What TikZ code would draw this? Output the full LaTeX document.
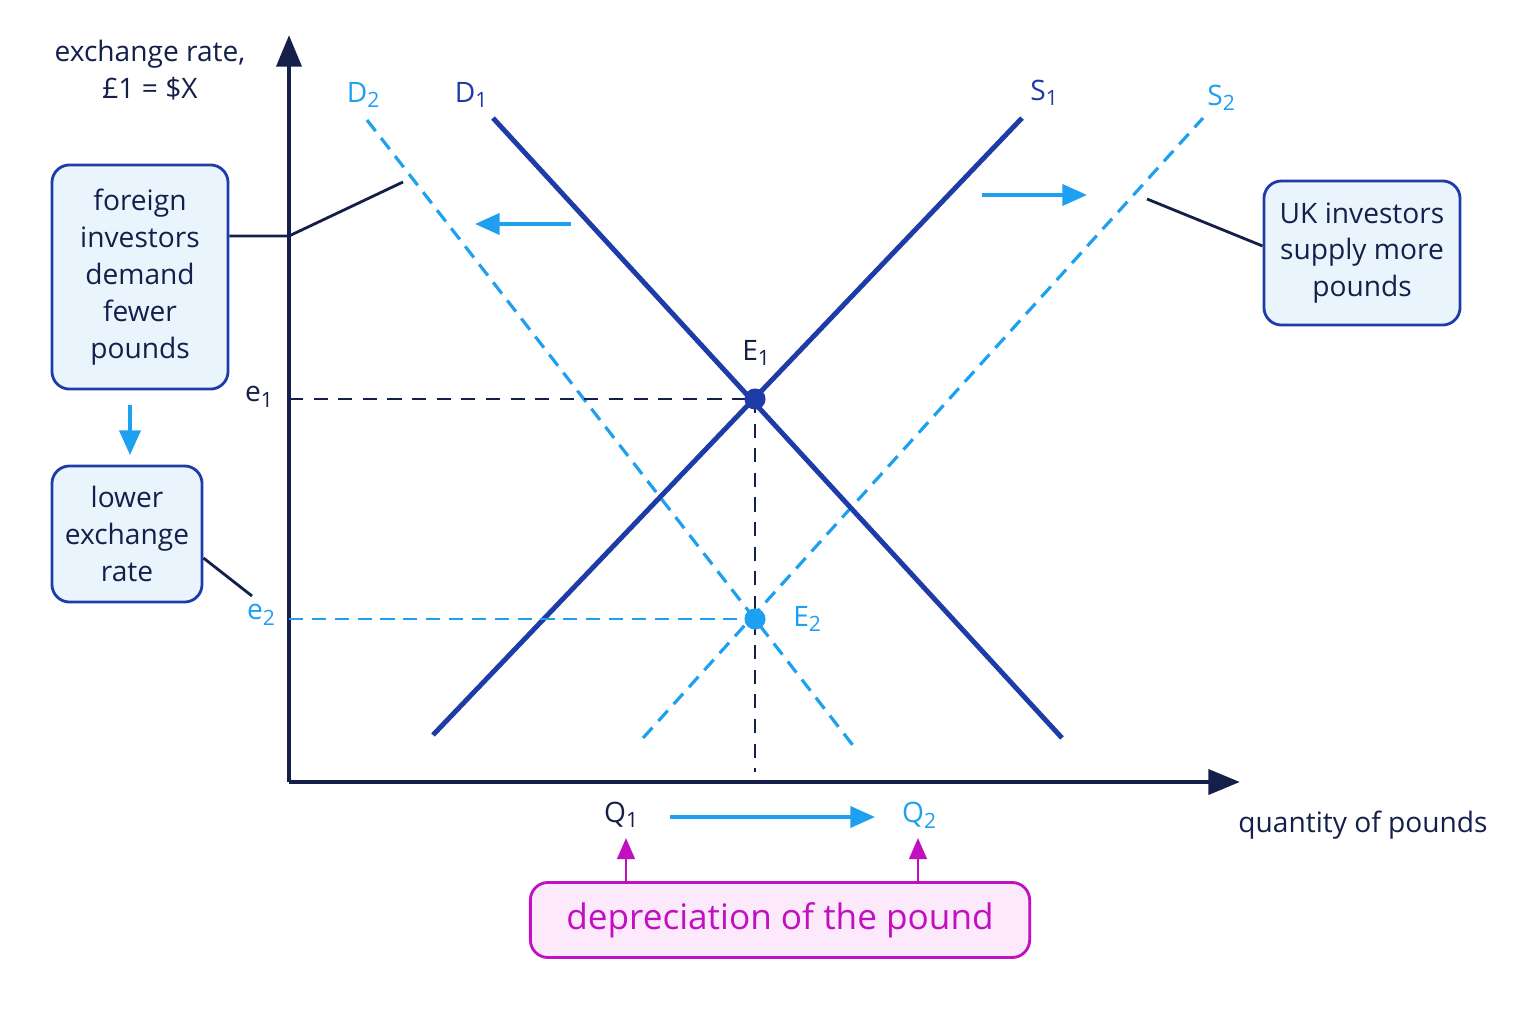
\documentclass[tikz,border=0pt]{standalone}
\usepackage{fontspec}
\setmainfont{Open Sans}
\usetikzlibrary{arrows.meta,positioning}
\definecolor{navy}{HTML}{14204A}
\definecolor{dblue}{HTML}{1E3CA8}
\definecolor{lblue}{HTML}{1EA0F0}
\definecolor{magen}{HTML}{C010C0}
\definecolor{boxfill}{HTML}{EAF4FD}
\definecolor{magfill}{HTML}{FCEAFC}
\newcommand{\sub}[1]{\textsubscript{#1}}
\begin{document}
\begin{tikzpicture}[x=0.01cm,y=-0.01cm,
  txt/.style={font=\fontsize{8}{10.5}\selectfont,text=navy},
  note/.style={draw=dblue,fill=boxfill,rounded corners=5pt,line width=0.8pt,align=center,txt},
  curve/.style={draw=dblue,line width=1.4pt},
  newcurve/.style={draw=lblue,line width=0.9pt,dash pattern=on 4pt off 2.5pt},
  guide/.style={draw=navy,line width=0.8pt,dash pattern=on 4pt off 3pt},
  move/.style={draw=lblue,line width=1pt,-{Triangle[length=7pt,width=6pt]}}]
  \useasboundingbox[fill=white] (0,0) rectangle (1536,1024);
  % axes
  \coordinate (O) at (289,782);
  \coordinate (ytop) at (289,35);
  \coordinate (xend) at (1240,782);
  \draw[navy,line width=1.4pt,-{Triangle[length=9pt,width=7pt]}] (O) -- (ytop);
  \draw[navy,line width=1.4pt,-{Triangle[length=9pt,width=7pt]}] (O) -- (xend);
  \node[txt,align=center] (ylab) at (150,70) {exchange rate,\\£1 = \$X};
  \node[txt] (xlab) at (1363,825) {quantity of pounds};
  % curves
  \coordinate (d1a) at (493,118); \coordinate (d1b) at (1062,738);
  \coordinate (s1a) at (433,735); \coordinate (s1b) at (1022,118);
  \coordinate (d2a) at (367,120); \coordinate (d2b) at (855,748);
  \coordinate (s2a) at (643,738); \coordinate (s2b) at (1203,118);
  \draw[newcurve] (d2a) -- (d2b);
  \draw[newcurve] (s2a) -- (s2b);
  \draw[curve] (d1a) -- (d1b);
  \draw[curve] (s1a) -- (s1b);
  \node[txt,text=lblue] (D2) at (364,95) {D\sub{2}};
  \node[txt,text=dblue] (D1) at (472,95) {D\sub{1}};
  \node[txt,text=dblue] (S1) at (1045,93) {S\sub{1}};
  \node[txt,text=lblue] (S2) at (1222,98) {S\sub{2}};
  % equilibria
  \coordinate (e1y) at (289,399); \coordinate (e2y) at (289,619);
  \coordinate (qbot) at (755,772);
  \draw[guide] (e1y) -- (755,399);
  \draw[newcurve,line width=0.8pt] (e2y) -- (755,619);
  \draw[guide] (755,399) -- (qbot);
  \node[circle,fill=dblue,inner sep=0pt,minimum size=6pt] (E1) at (755,399) {};
  \node[circle,fill=lblue,inner sep=0pt,minimum size=6pt] (E2) at (755,619) {};
  \node[txt] (E1l) at (757,353) {E\sub{1}};
  \node[txt,text=lblue] (E2l) at (808,619) {E\sub{2}};
  \node[txt] (e1) at (260,397) {e\sub{1}};
  \node[txt,text=lblue] (e2) at (262,615) {e\sub{2}};
  % shifts
  \draw[move] (571,224) -- (475,224);
  \draw[move] (982,195) -- (1087,195);
  % notes
  \node[note,minimum width=1.76cm,minimum height=2.24cm] (fi) at (140,277) {foreign\\investors\\demand\\fewer\\pounds};
  \node[note,minimum width=1.5cm,minimum height=1.36cm] (lr) at (127,534) {lower\\exchange\\rate};
  \node[note,minimum width=1.96cm,minimum height=1.44cm] (uk) at (1362,253) {UK investors\\supply more\\pounds};
  \draw[navy,line width=0.8pt] (fi.east |- 0,236) -- (289,236) -- (403,182);
  \draw[navy,line width=0.8pt] (lr.east |- 0,558) -- (252,596);
  \draw[navy,line width=0.8pt] (uk.west |- 0,246) -- (1147,199);
  \draw[move] (130,405) -- (130,455);
  % quantities
  \node[txt] (Q1) at (622,815) {Q\sub{1}};
  \node[txt,text=lblue] (Q2) at (920,815) {Q\sub{2}};
  \draw[move] (670,817) -- (875,817);
  \node[draw=magen,fill=magfill,rounded corners=5pt,line width=0.8pt,text=magen,
    font=\fontsize{10}{12}\selectfont,minimum width=4.99cm,minimum height=0.75cm] (dep) at (780,920) {depreciation of the pound};
  \draw[magen,line width=0.8pt,-{Triangle[length=6pt,width=5pt]}] (626,882) -- (626,838);
  \draw[magen,line width=0.8pt,-{Triangle[length=6pt,width=5pt]}] (918,882) -- (918,838);
\end{tikzpicture}
\end{document}
